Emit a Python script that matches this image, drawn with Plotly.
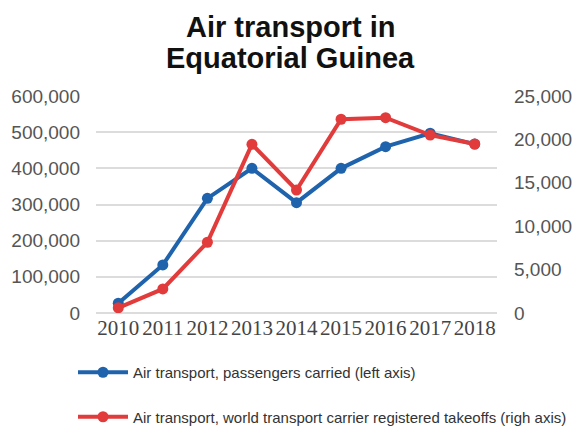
import plotly.graph_objects as go

years = ["2010", "2011", "2012", "2013", "2014", "2015", "2016", "2017", "2018"]
passengers = [27000, 133000, 317000, 400000, 305000, 400000, 460000, 497000, 467000]
takeoffs = [600, 2770, 8150, 19430, 14170, 22320, 22500, 20500, 19470]

left_ticks = [0, 100000, 200000, 300000, 400000, 500000, 600000]
right_ticks = [0, 5000, 10000, 15000, 20000, 25000]

BLUE = "#1f63ad"
RED = "#e23b3b"
GRID = "#dcdcdc"
SANS = "Liberation Sans, Arial, sans-serif"
TICK_FONT = dict(family=SANS, size=19, color="#555555")

W, H = 573, 428
M_L, M_R, M_T, M_B = 96, 76, 96, 115

fig = go.Figure()

fig.add_trace(go.Scatter(
    x=years, y=passengers, name="Air transport, passengers carried (left axis)",
    mode="lines+markers", line=dict(color=BLUE, width=4),
    marker=dict(color=BLUE, size=11), yaxis="y", legendgroup="a",
))
fig.add_trace(go.Scatter(
    x=years, y=takeoffs,
    name="Air transport, world transport carrier registered takeoffs (righ axis)",
    mode="lines+markers", line=dict(color=RED, width=4),
    marker=dict(color=RED, size=11), yaxis="y2", legendgroup="b",
))

plot_w = W - M_L - M_R
plot_h = H - M_T - M_B


def px_x(pixel_x):
    return (pixel_x - M_L) / plot_w


def py(pixel_y):
    return (H - M_B - pixel_y) / plot_h


fig.update_layout(
    width=W, height=H,
    margin=dict(l=M_L, r=M_R, t=M_T, b=M_B, autoexpand=False),
    paper_bgcolor="white", plot_bgcolor="white",
    showlegend=True,
    legend=dict(
        x=px_x(73), xanchor="left", y=py(356), yanchor="top",
        font=dict(family=SANS, size=15, color="#333333"),
        tracegroupgap=22, itemwidth=50, bgcolor="rgba(0,0,0,0)",
    ),
    xaxis=dict(
        type="category", range=[-0.5, 8.5], showgrid=False, zeroline=False,
        showline=False, ticks="", tickangle=0, automargin=False,
        tickfont=dict(family="Liberation Serif, Times New Roman, serif", size=21, color="#444444"),
    ),
    yaxis=dict(
        range=[0, 600000], tickvals=left_ticks,
        ticktext=[f"{v:,}" for v in left_ticks],
        showgrid=True, gridcolor=GRID, gridwidth=1.5,
        zeroline=True, zerolinecolor=GRID, zerolinewidth=1.5,
        showline=False, ticks="", tickfont=TICK_FONT, ticklabelstandoff=15,
        automargin=False,
    ),
    yaxis2=dict(
        range=[0, 25000], tickvals=right_ticks,
        ticktext=[f"{v:,}" for v in right_ticks],
        overlaying="y", side="right", showgrid=False, zeroline=False,
        showline=False, ticks="", tickfont=TICK_FONT, ticklabelstandoff=16,
        automargin=False,
    ),
)

# Two-line title placed in pixel space above the plot area
for txt, ypix in [("Air transport in", 27), ("Equatorial Guinea", 58)]:
    fig.add_annotation(
        text=f"<b>{txt}</b>", x=0.485, xref="paper", xanchor="center",
        y=py(ypix), yref="paper", yanchor="middle", showarrow=False,
        font=dict(family=SANS, size=29, color="#111111"),
    )

fig.write_html("out.html")
